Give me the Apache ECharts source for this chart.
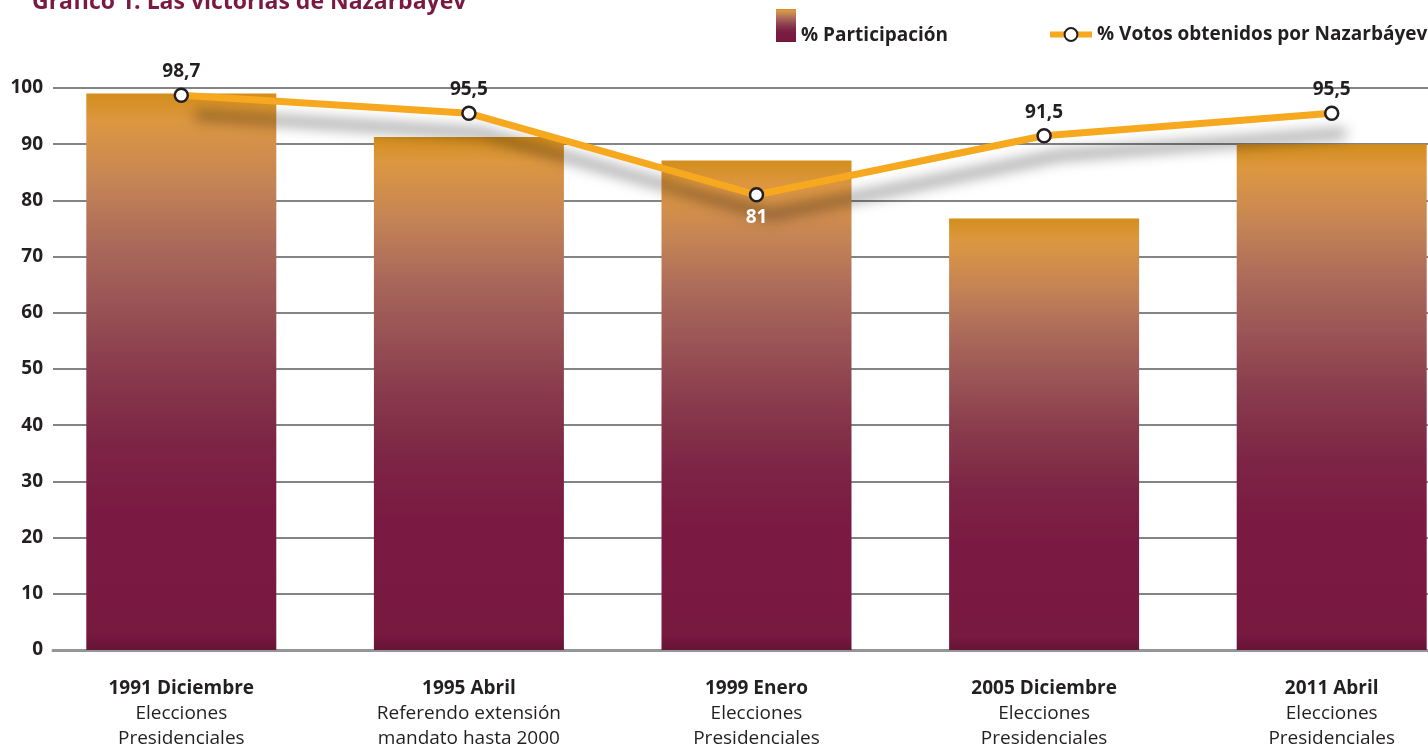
<!DOCTYPE html>
<html>
<head>
<meta charset="utf-8">
<script src="https://cdn.jsdelivr.net/npm/echarts@6/dist/echarts.min.js"></script>
<style>
  html, body { margin: 0; padding: 0; background: #fff; }
  #chart { width: 1428px; height: 749px; }
</style>
</head>
<body>
<div id="chart"></div>
<script>
// categories
const years = ['1991 Diciembre', '1995 Abril', '1999 Enero', '2005 Diciembre', '2011 Abril'];
const descLine1 = ['Elecciones', 'Referendo extensión', 'Elecciones', 'Elecciones', 'Elecciones'];
const descLine2 = ['Presidenciales', 'mandato hasta 2000', 'Presidenciales', 'Presidenciales', 'Presidenciales'];

// series values
const participacion = [99.0, 91.3, 87.1, 76.8, 90.0];
const votos = [98.7, 95.5, 81, 91.5, 95.5];

// y axis
const yMin = 0;
const yMax = 100;
const yStep = 10;

const FONT = 'Open Sans';
const DARK = '#231f20';

const barGradient = new echarts.graphic.LinearGradient(0, 0, 0, 1, [
    { offset: 0, color: '#d38e1b' },
    { offset: 0.05, color: '#dd9741' },
    { offset: 0.16, color: '#c48455' },
    { offset: 0.27, color: '#ab695a' },
    { offset: 0.38, color: '#995355' },
    { offset: 0.5, color: '#883a4c' },
    { offset: 0.63, color: '#7d2445' },
    { offset: 0.75, color: '#7a1a42' },
    { offset: 0.97, color: '#781940' },
    { offset: 1, color: '#661336' }
]);

const chart = echarts.init(document.getElementById('chart'));

const options = {
    animation: false,
    textStyle: { fontFamily: FONT },
    title: {
        text: 'Gráfico 1. Las victorias de Nazarbáyev',
        left: 27,
        top: -14,
        textStyle: { fontFamily: FONT, fontSize: 23, fontWeight: 'bold', color: '#7a1a42' }
    },
    legend: [{
        data: [{ name: '% Participación', icon: 'rect' }],
        left: 776,
        top: 9,
        padding: 0,
        itemWidth: 20,
        itemHeight: 33,
        itemGap: 6,
        formatter: '{a|{name}}',
        textStyle: {
            rich: {
                a: { fontFamily: FONT, fontSize: 19, fontWeight: 'bold', color: DARK, padding: [20, 0, 0, 0] }
            }
        }
    }, {
        data: ['% Votos obtenidos por Nazarbáyev'],
        left: 1047,
        top: 25,
        padding: 0,
        itemWidth: 42,
        itemHeight: 16,
        itemGap: 5,
        lineStyle: { width: 6 },
        textStyle: { fontFamily: FONT, fontSize: 19, fontWeight: 'bold', color: DARK }
    }],
    grid: [
        // bars and line
        { left: 37.5, top: 88, width: 1438, bottom: 99, outerBoundsMode: 'none' },
        // gridlines and y labels
        { left: 53, top: 88, right: 0, bottom: 99, outerBoundsMode: 'none' }
    ],
    xAxis: [{
        type: 'category',
        gridIndex: 0,
        data: years,
        axisLine: { show: false },
        axisTick: { show: false },
        axisLabel: {
            margin: 26,
            interval: 0,
            formatter: function (value, idx) {
                return '{b|' + value + '}\n{n|' + descLine1[idx] + '}\n{n|' + descLine2[idx] + '}';
            },
            rich: {
                b: { fontFamily: FONT, fontSize: 19, fontWeight: 'bold', color: DARK, lineHeight: 25 },
                n: { fontFamily: FONT, fontSize: 19, color: DARK, lineHeight: 25 }
            }
        }
    }, {
        type: 'category',
        gridIndex: 1,
        data: years,
        axisLine: { show: true, lineStyle: { color: '#939598', width: 3 } },
        axisTick: { show: false },
        axisLabel: { show: false }
    }],
    yAxis: [{
        type: 'value',
        gridIndex: 0,
        min: yMin,
        max: yMax,
        interval: yStep,
        axisLine: { show: false },
        axisTick: { show: false },
        axisLabel: { show: false },
        splitLine: { show: false }
    }, {
        type: 'value',
        gridIndex: 1,
        min: yMin,
        max: yMax,
        interval: yStep,
        axisLine: { show: false },
        axisTick: { show: false },
        axisLabel: {
            margin: 10,
            fontFamily: FONT,
            fontSize: 19,
            fontWeight: 'bold',
            color: DARK
        },
        splitLine: {
            show: true,
            lineStyle: { color: '#5a5b5d', width: 1.5 }
        }
    }],
    series: [{
        name: '% Participación',
        type: 'bar',
        xAxisIndex: 0,
        yAxisIndex: 0,
        barWidth: 190,
        data: participacion,
        itemStyle: { color: barGradient }
    }, {
        name: '% Votos obtenidos por Nazarbáyev',
        type: 'line',
        xAxisIndex: 0,
        yAxisIndex: 0,
        data: votos.map(function (v, i) {
            // the low point carries its label inside the bar
            return i === 2 ? { value: v, label: { position: 'bottom', color: '#fff', distance: 6 } } : v;
        }),
        symbol: 'circle',
        symbolSize: 13,
        z: 5,
        lineStyle: {
            color: '#f6a81e',
            width: 7,
            shadowColor: 'rgba(0,0,0,0.5)',
            shadowBlur: 14,
            shadowOffsetX: 14,
            shadowOffsetY: 20
        },
        itemStyle: { color: '#ffffff', borderColor: DARK, borderWidth: 2.5 },
        label: {
            show: true,
            position: 'top',
            distance: 6,
            fontFamily: FONT,
            fontSize: 19,
            fontWeight: 'bold',
            color: DARK,
            formatter: function (p) { return String(p.value).replace('.', ','); }
        }
    }]
};

chart.setOption(options);
window.onresize = function () {
    chart.resize();
};
</script>
</body>
</html>
